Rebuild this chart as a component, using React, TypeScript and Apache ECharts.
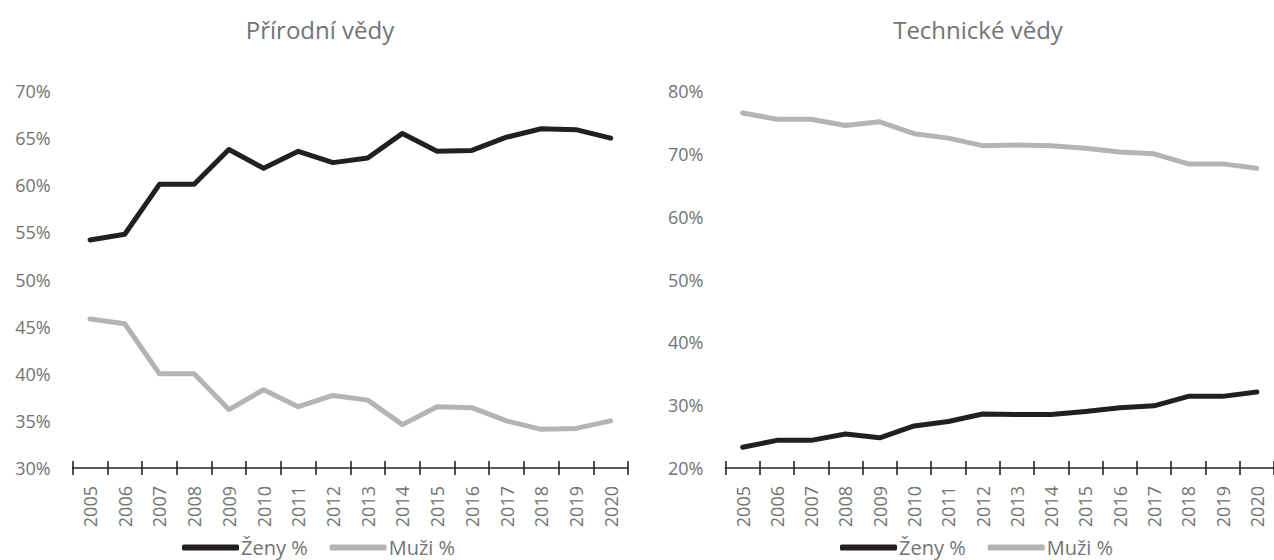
import React, { useEffect, useRef } from "react";
import * as echarts from "echarts";

const years = ["2005","2006","2007","2008","2009","2010","2011","2012","2013","2014","2015","2016","2017","2018","2019","2020"];

const prirodniZeny = [54.2, 54.8, 60.1, 60.1, 63.8, 61.8, 63.6, 62.4, 62.9, 65.5, 63.6, 63.7, 65.1, 66.0, 65.9, 65.0];
const prirodniMuzi = [45.8, 45.3, 40.0, 40.0, 36.2, 38.3, 36.5, 37.7, 37.2, 34.6, 36.5, 36.4, 35.0, 34.1, 34.2, 35.0];

const technickeZeny = [23.3, 24.4, 24.4, 25.4, 24.8, 26.7, 27.4, 28.6, 28.5, 28.5, 29.0, 29.6, 29.9, 31.4, 31.4, 32.1];
const technickeMuzi = [76.5, 75.5, 75.5, 74.5, 75.1, 73.2, 72.5, 71.3, 71.4, 71.3, 70.9, 70.3, 70.0, 68.4, 68.4, 67.7];

const titles = ["Přírodní vědy", "Technické vědy"];
const seriesNames = ["Ženy %", "Muži %"];

const BLACK = "#231f20";
const GRAY = "#b4b4b7";
const TEXT = "#737373";
const FONT = "'Open Sans', 'Noto Sans', sans-serif";

const GRID_TOP = 91;
const GRID_BOTTOM = 92;
const GRID_H = 560 - GRID_TOP - GRID_BOTTOM;

export default function App() {
  const ref = useRef<HTMLDivElement>(null);
  useEffect(() => {
    if (!ref.current) return;
    const chart = echarts.init(ref.current, null, { renderer: "svg" });

    const xAxisMain = (gridIndex: number) => ({
      type: "category",
      gridIndex,
      position: "bottom",
      data: years,
      boundaryGap: true,
      axisLine: { show: true, onZero: false, lineStyle: { color: "#262626", width: 1.6 } },
      axisTick: { show: true, inside: false, length: 7, interval: 0, lineStyle: { color: "#262626", width: 1.6 } },
      axisLabel: { show: true, rotate: 90, interval: 0, margin: 18, color: TEXT, fontSize: 18, fontFamily: FONT },
      splitLine: { show: false },
    });

    // second axis placed on the same line, drawing the upward half of the ticks
    const xAxisUpTicks = (gridIndex: number) => ({
      type: "category",
      gridIndex,
      position: "top",
      offset: -GRID_H,
      data: years,
      boundaryGap: true,
      axisLine: { show: false, onZero: false },
      axisTick: { show: true, inside: false, length: 7, interval: 0, lineStyle: { color: "#262626", width: 1.6 } },
      axisLabel: { show: false },
      splitLine: { show: false },
    });

    const yAxisFor = (gridIndex: number, min: number, max: number, interval: number) => ({
      type: "value",
      gridIndex,
      min,
      max,
      interval,
      axisLine: { show: false },
      axisTick: { show: false },
      splitLine: { show: false },
      axisLabel: { formatter: "{value}%", margin: 22, color: TEXT, fontSize: 18, fontFamily: FONT },
    });

    const lineSeries = (name: string, data: number[], color: string, axisIndex: number) => ({
      type: "line",
      name,
      data,
      xAxisIndex: axisIndex,
      yAxisIndex: axisIndex,
      symbol: "none",
      lineStyle: { color, width: 5, cap: "round", join: "round" },
      itemStyle: { color },
      z: color === BLACK ? 3 : 2,
    });

    const legendFor = (left: number) => ({
      left,
      top: 537,
      padding: 0,
      orient: "horizontal",
      data: seriesNames,
      icon: "roundRect",
      itemWidth: 57,
      itemHeight: 6,
      itemGap: 22,
      selectedMode: false,
      textStyle: { color: TEXT, fontSize: 20, lineHeight: 21, fontFamily: FONT, padding: [0, 0, 0, -3] },
    });

    chart.setOption({
      animation: false,
      backgroundColor: "#ffffff",
      title: [
        {
          text: titles[0],
          left: 315,
          top: 12,
          textAlign: "center",
          textStyle: { color: TEXT, fontSize: 24, fontWeight: "normal", fontFamily: FONT },
        },
        {
          text: titles[1],
          left: 973,
          top: 12,
          textAlign: "center",
          textStyle: { color: TEXT, fontSize: 24, fontWeight: "normal", fontFamily: FONT },
        },
      ],
      legend: [legendFor(182), legendFor(840)],
      grid: [
        { left: 72.7, right: 646, top: GRID_TOP, bottom: GRID_BOTTOM, containLabel: false },
        { left: 725.5, right: -6.7, top: GRID_TOP, bottom: GRID_BOTTOM, containLabel: false },
      ],
      xAxis: [xAxisMain(0), xAxisMain(1), xAxisUpTicks(0), xAxisUpTicks(1)],
      yAxis: [yAxisFor(0, 30, 70, 5), yAxisFor(1, 20, 80, 10)],
      series: [
        lineSeries(seriesNames[0], prirodniZeny, BLACK, 0),
        lineSeries(seriesNames[1], prirodniMuzi, GRAY, 0),
        lineSeries(seriesNames[0], technickeZeny, BLACK, 1),
        lineSeries(seriesNames[1], technickeMuzi, GRAY, 1),
        { type: "line", name: "__ticks0", data: [], xAxisIndex: 2, yAxisIndex: 0 },
        { type: "line", name: "__ticks1", data: [], xAxisIndex: 3, yAxisIndex: 1 },
      ],
    });
    return () => chart.dispose();
  }, []);

  return (
    <div
      ref={ref}
      style={{ position: "absolute", left: 0, top: 0, width: 1274, height: 560, overflow: "hidden" }}
    />
  );
}
